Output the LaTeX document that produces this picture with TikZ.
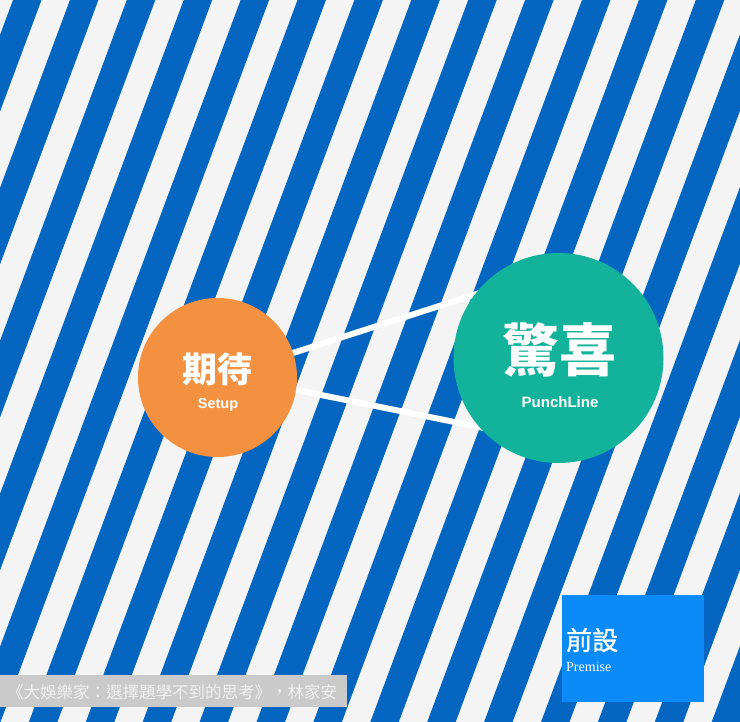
\documentclass[tikz,border=0pt]{standalone}
\usepackage{fontspec}
\setmainfont{Liberation Serif}
\setsansfont{Liberation Sans}
\newfontfamily\cjk{Noto Sans CJK TC}
\newfontfamily\cjkmed[FakeBold=1.2]{Noto Sans CJK TC}
\pgfdeclarelayer{bg}
\pgfdeclarelayer{mid}
\pgfsetlayers{bg,mid,main}
\definecolor{stripeblue}{HTML}{0566C1}
\definecolor{stripewhite}{HTML}{F4F4F4}
\definecolor{setupor}{HTML}{F39140}
\definecolor{punchgr}{HTML}{13B29A}
\definecolor{premblue}{HTML}{0A8BF8}
\definecolor{capgray}{HTML}{CACACA}
\begin{document}
\begin{tikzpicture}[x=1pt,y=-1pt,
  bubble/.style={circle, inner sep=0pt, draw=none},
  link/.style={draw=white, line width=6pt, shorten <=-6pt, shorten >=-6pt},
  txt/.style={inner sep=0pt, text=white},
  cnbig/.style={txt, font=\cjk\bfseries\fontsize{#1}{#1}\selectfont},
  enlab/.style={txt, font=\sffamily\bfseries\fontsize{#1}{#1}\selectfont}]
\useasboundingbox (0,0) rectangle (740,722);
\begin{pgfonlayer}{bg}
  \begin{scope}
    \clip (0,0) rectangle (740,722);
    \fill[stripewhite] (0,0) rectangle (740,722);
    \foreach \k in {-1,...,18} {
      \fill[stripeblue] ({13+56.9*\k},0) -- ({41.5+56.9*\k},0)
        -- ({41.5+56.9*\k-268.6},722) -- ({13+56.9*\k-268.6},722) -- cycle;
    }
  \end{scope}
\end{pgfonlayer}

\node[bubble, fill=setupor, minimum size=159pt] (setup) at (217.5,377.5) {};
\node[bubble, fill=punchgr, minimum size=210pt] (punch) at (558.5,358) {};

\begin{pgfonlayer}{mid}
  \draw[link] (setup.18) -- (punch.143);
  \draw[link] (setup.-9) -- (punch.221);
\end{pgfonlayer}

\node[cnbig=35] (setupcn) at (217,369) {期待};
\node[enlab=14.5] (setupen) at (218,405) {Setup};
\node[cnbig=57] (punchcn) at (559,350) {驚喜};
\node[enlab=15] (punchen) at (560,402) {PunchLine};

\node[fill=premblue, minimum width=142pt, minimum height=107pt, inner sep=0pt, anchor=north west] (premise) at (562,595) {};
\node[txt, anchor=west, font=\cjkmed\fontsize{26}{26}\selectfont] (premcn) at (566,640) {前設};
\node[txt, anchor=west, font=\rmfamily\fontsize{14}{14}\selectfont] (premen) at (566,667) {Premise};

\node[fill=capgray, minimum width=347pt, minimum height=32pt, inner sep=0pt, anchor=north west] (capbox) at (0,675) {};
\node[txt, anchor=west, text=white!94!black, font=\cjk\fontsize{16.5}{16.5}\selectfont] (captxt) at (7,692) {《大娛樂家：選擇題學不到的思考》，林家安};
\end{tikzpicture}
\end{document}
